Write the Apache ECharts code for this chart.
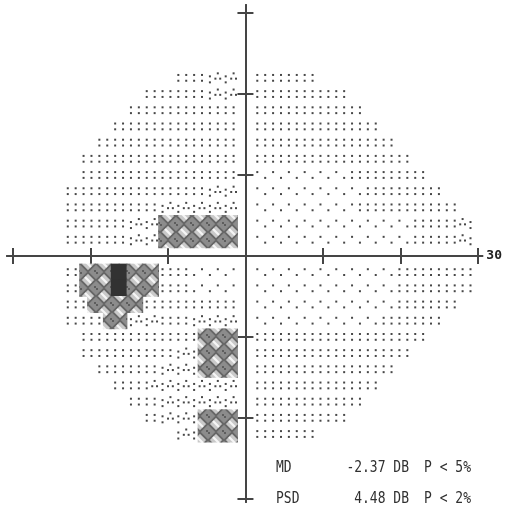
<!DOCTYPE html>
<html>
<head>
<meta charset="utf-8">
<script src="https://cdn.jsdelivr.net/npm/echarts@6/dist/echarts.min.js"></script>
<style>
  html, body { margin: 0; padding: 0; background: #fff; }
  #chart { width: 505px; height: 517px; }
</style>
</head>
<body>
<div id="chart"></div>
<script>
// Greyscale rows, from the top (+22°) down to the bottom (-22°), 2° apart.
const rowDegrees = [22, 20, 18, 16, 14, 12, 10, 8, 6, 4, 2,
                    -2, -4, -6, -8, -10, -12, -14, -16, -18, -20, -22];

// Symbol levels: o = dot pairs, s = sparse dots, t = triangles,
// x = cross-hatch, # = solid (blind spot). Runs are "<symbol><count>".
// Temporal half: listed from the outer edge in to the vertical meridian.
const temporalRuns = [
  'o4 t4',
  'o8 t4',
  'o14',
  'o16',
  'o18',
  'o20',
  'o20',
  'o18 t4',
  'o12 t10',
  'o8 t4 x10',
  'o8 t4 x10',
  'o2 x4 #2 x4 o4 s6',
  'o2 x4 #2 x4 o4 s6',
  'o3 x7 o12',
  'o5 x3 t4 o4 t6',
  'o15 x5',
  'o12 t3 x5',
  'o8 t5 x5',
  'o5 t11',
  'o4 t10',
  'o2 t5 x5',
  't3 x5'
];
// Nasal half: listed from the vertical meridian out to the edge.
const nasalRuns = [
  'o8',
  'o12',
  'o14',
  'o16',
  'o18',
  'o20',
  's12 o10',
  's14 o10',
  's13 o13',
  's20 o6 t2',
  's20 o6 t2',
  's18 o10',
  's18 o10',
  's18 o8',
  's16 o8',
  'o22',
  'o20',
  'o18',
  'o16',
  'o14',
  'o12',
  'o8'
];

const axisTicks = [-30, -20, -10, 0, 10, 20, 30];
const statNames = ['MD', 'PSD'];
const statValues = ['-2.37 DB', '4.48 DB'];
const statProbs = ['P < 5%', 'P < 2%'];

const CELL_W = 1.02;   // degrees per greyscale column
const ROW_STEP = 2;    // degrees per greyscale row
const LEVELS = { 'o': 1, 's': 2, 't': 3, 'x': 4, '#': 5 };
const DOT_COLOR = '#474747';
const AXIS_COLOR = '#454545';

function expandRuns(text) {
  const out = [];
  text.trim().split(/\s+/).forEach(tok => {
    const n = parseInt(tok.slice(1), 10);
    for (let i = 0; i < n; i++) out.push(tok[0]);
  });
  return out;
}

// One data item per greyscale cell: [x°, y°, level, column number]
const cells = [];
rowDegrees.forEach((deg, r) => {
  const left = expandRuns(temporalRuns[r]);
  left.forEach((sym, i) => {
    const col = left.length - i;
    cells.push([-(col + 0.5) * CELL_W, deg, LEVELS[sym], col]);
  });
  expandRuns(nasalRuns[r]).forEach((sym, i) => {
    const col = i + 1;
    cells.push([(col + 0.5) * CELL_W, deg, LEVELS[sym], col]);
  });
});

// Cross-hatch tile for the depressed areas
function makeHatch() {
  const c = document.createElement('canvas');
  c.width = 16; c.height = 16;
  const g = c.getContext('2d');
  g.fillStyle = '#8c8c8c';
  g.fillRect(0, 0, 16, 16);
  g.beginPath();
  g.moveTo(0.5, 8); g.lineTo(8, 0.5); g.lineTo(15.5, 8); g.lineTo(8, 15.5); g.closePath();
  g.fillStyle = '#c9c9c9';
  g.fill();
  g.strokeStyle = '#666';
  g.lineWidth = 1.8;
  g.stroke();
  g.strokeStyle = '#f6f6f6';
  g.lineWidth = 2.2;
  g.beginPath(); g.moveTo(5, 5); g.lineTo(11, 11); g.stroke();
  g.fillStyle = '#5e5e5e';
  g.fillRect(0, 0, 2, 2); g.fillRect(14, 14, 2, 2);
  return c;
}
const hatchFill = { image: makeHatch(), repeat: 'repeat' };

const PAIR = 2.9;
function renderItem(params, api) {
  const level = api.value(2);
  const col = api.value(3);
  const p = api.coord([api.value(0), api.value(1)]);
  const sz = api.size([CELL_W, ROW_STEP]);
  const kids = [];
  const dot = (dx, dy) => kids.push({
    type: 'rect',
    shape: { x: p[0] + dx - 1, y: p[1] + dy - 1, width: 2, height: 2 },
    style: { fill: DOT_COLOR }
  });
  if (level === 1) {
    dot(0, -PAIR); dot(0, PAIR);
  } else if (level === 2) {
    dot(0, col % 2 ? -PAIR : PAIR);
  } else if (level === 3) {
    if (col % 2) { dot(0, -4.5); dot(-2.4, 0.8); dot(2.4, 0.8); }
    else { dot(0, -1.5); dot(0, 4.5); }
  } else if (level === 4 || level === 5) {
    kids.push({
      type: 'rect',
      shape: { x: p[0] - sz[0] / 2 - 0.4, y: p[1] - sz[1] / 2 - 0.4, width: sz[0] + 0.8, height: sz[1] + 0.8 },
      style: { fill: level === 4 ? hatchFill : '#323232' }
    });
  }
  return { type: 'group', children: kids };
}

const tickStyle = { color: AXIS_COLOR, width: 2 };
function valueAxis(min, max, extra) {
  return Object.assign({
    type: 'value', min: min, max: max,
    axisLine: { show: true, onZero: true, lineStyle: { color: AXIS_COLOR, width: 2 } },
    axisTick: { show: true, length: 8, customValues: axisTicks, lineStyle: tickStyle },
    axisLabel: { show: false },
    splitLine: { show: false }
  }, extra);
}

const chart = echarts.init(document.getElementById('chart'), null, { renderer: 'canvas' });
const statFont = '13px "DejaVu Sans Mono"';
const graphics = [];
statNames.forEach((name, i) => {
  const y = 468 + i * 31;
  const base = { font: statFont, fill: '#303030', verticalAlign: 'middle' };
  graphics.push({ type: 'text', x: 276, y: y, scaleY: 1.15, style: Object.assign({ text: name }, base) });
  graphics.push({ type: 'text', x: 409, y: y, scaleY: 1.15, style: Object.assign({ text: statValues[i], align: 'right' }, base) });
  graphics.push({ type: 'text', x: 424, y: y, scaleY: 1.15, style: Object.assign({ text: statProbs[i] }, base) });
});

chart.setOption({
  animation: false,
  // axis lines run a little past the ±30° ticks
  grid: { left: 7, right: 18, top: 5, bottom: 15 },
  xAxis: [
    valueAxis(-30.8, 30.6, { position: 'bottom', name: String(axisTicks[axisTicks.length - 1]), nameLocation: 'end', nameGap: 4,
      nameTextStyle: { color: '#222', fontFamily: 'DejaVu Sans Mono', fontWeight: 'bold', fontSize: 13 } }),
    valueAxis(-30.8, 30.6, { position: 'bottom', axisTick: { show: true, inside: true, length: 8, customValues: axisTicks, lineStyle: tickStyle } })
  ],
  yAxis: [
    valueAxis(-30.4, 31, { position: 'left' }),
    valueAxis(-30.4, 31, { position: 'left', axisTick: { show: true, inside: true, length: 8, customValues: axisTicks, lineStyle: tickStyle } })
  ],
  graphic: graphics,
  series: [{
    type: 'custom',
    coordinateSystem: 'cartesian2d',
    xAxisIndex: 0, yAxisIndex: 0,
    silent: true,
    clip: false,
    renderItem: renderItem,
    data: cells
  }]
});
</script>
</body>
</html>
